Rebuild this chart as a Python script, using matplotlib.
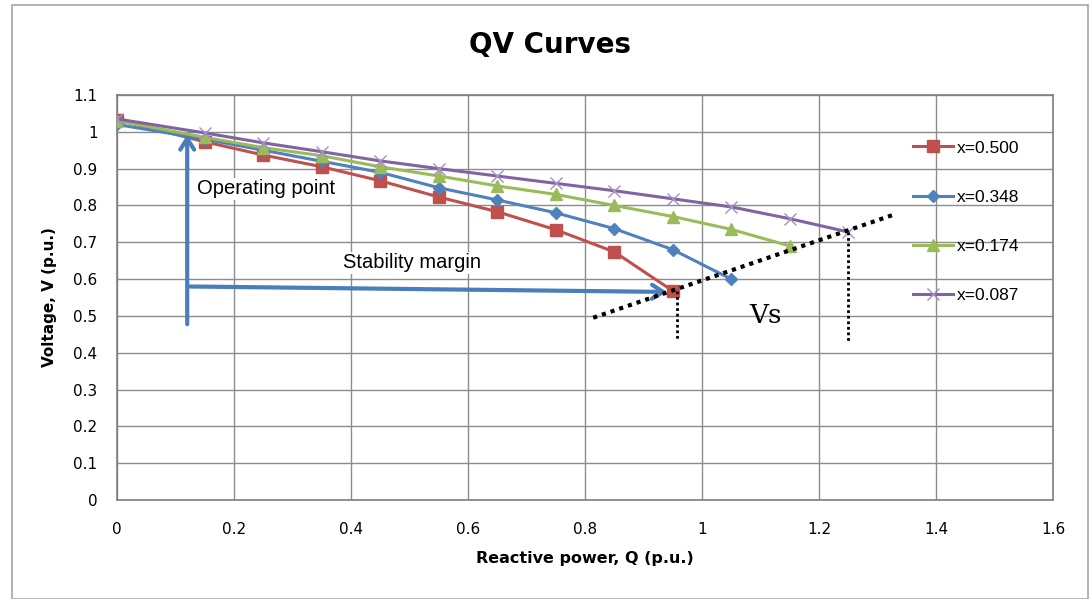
import matplotlib.pyplot as plt
from matplotlib.patches import Rectangle

# data
q_red = [0, 0.15, 0.25, 0.35, 0.45, 0.55, 0.65, 0.75, 0.85, 0.95]
v_red = [1.033, 0.973, 0.937, 0.905, 0.867, 0.823, 0.783, 0.734, 0.674, 0.568]
q_blue = [0, 0.15, 0.25, 0.35, 0.45, 0.55, 0.65, 0.75, 0.85, 0.95, 1.05]
v_blue = [1.02, 0.98, 0.95, 0.92, 0.89, 0.848, 0.815, 0.78, 0.737, 0.68, 0.60]
q_green = [0, 0.15, 0.25, 0.35, 0.45, 0.55, 0.65, 0.75, 0.85, 0.95, 1.05, 1.15]
v_green = [1.03, 0.985, 0.957, 0.935, 0.905, 0.88, 0.853, 0.83, 0.80, 0.77, 0.735, 0.69]
q_purple = [0, 0.15, 0.25, 0.35, 0.45, 0.55, 0.65, 0.75, 0.85, 0.95, 1.05, 1.15, 1.25]
v_purple = [1.035, 0.997, 0.97, 0.946, 0.921, 0.90, 0.88, 0.86, 0.84, 0.818, 0.796, 0.764, 0.728]
labels = ['x=0.500', 'x=0.348', 'x=0.174', 'x=0.087']

# annotation geometry (data units)
vs_line_q = [0.814, 1.326]
vs_line_v = [0.495, 0.774]
drop_red = (0.957, 0.568, 0.435)
drop_purple = (1.25, 0.728, 0.43)

fig = plt.figure(figsize=(10.9, 5.99), dpi=100)
fig.patches.append(Rectangle((12 / 1090, 0), 1076 / 1090, 1 - 5 / 599, transform=fig.transFigure,
                             fill=False, edgecolor='#a6a6a6', linewidth=1.2))
ax = fig.add_axes([117 / 1090, 1 - 500 / 599, 936 / 1090, 405 / 599])

ax.plot(q_red, v_red, color='#C0504D', marker='s', markersize=8, linewidth=2.2, label=labels[0], zorder=3)
ax.plot(q_blue, v_blue, color='#4F81BD', marker='D', markersize=6.5, linewidth=2.2, label=labels[1], zorder=3)
ax.plot(q_green, v_green, color='#9BBB59', marker='^', markersize=8.5, linewidth=2.2, label=labels[2], zorder=3)
ax.plot(q_purple, v_purple, color='#8064A2', marker='x', markersize=9, markeredgecolor='#a48fc4',
        linewidth=2.2, label=labels[3], zorder=3)

ax.set_xlim(0, 1.6)
ax.set_ylim(0, 1.1)
ax.set_xticks([0, 0.2, 0.4, 0.6, 0.8, 1, 1.2, 1.4, 1.6])
ax.set_xticklabels(['0', '0.2', '0.4', '0.6', '0.8', '1', '1.2', '1.4', '1.6'], fontsize=11)
ax.set_yticks([i / 10 for i in range(12)])
ax.set_yticklabels(['0', '0.1', '0.2', '0.3', '0.4', '0.5', '0.6', '0.7', '0.8', '0.9', '1', '1.1'], fontsize=11)
ax.tick_params(length=0, pad=14)
ax.tick_params(axis='x', pad=16)
ax.grid(True, color='#8c8c8c', linewidth=1)
ax.set_axisbelow(True)
for s in ax.spines.values():
    s.set_color('#7f7f7f')
    s.set_linewidth(1.2)

ax.set_xlabel('Reactive power, Q (p.u.)', fontsize=11.5, fontweight='bold', labelpad=10)
ax.set_ylabel('Voltage, V (p.u.)', fontsize=11, fontweight='bold', labelpad=12)
fig.text(550 / 1090, 1 - 45 / 599, 'QV Curves', fontsize=20, fontweight='bold', ha='center', va='center')

# arrows
blue = '#4a7ebb'
ax.annotate('', xy=(0.12, 1.0), xytext=(0.12, 0.47),
            arrowprops=dict(arrowstyle='->,head_length=0.8,head_width=0.5', color=blue, lw=3))
ax.annotate('', xy=(0.945, 0.565), xytext=(0.12, 0.58),
            arrowprops=dict(arrowstyle='->,head_length=0.8,head_width=0.5', color=blue, lw=3))
ax.text(0.137, 0.845, 'Operating point', fontsize=14.5, va='center', ha='left',
        family='Liberation Sans', bbox=dict(facecolor='white', edgecolor='none', pad=1))
ax.text(0.505, 0.644, 'Stability margin', fontsize=14.5, va='center', ha='center',
        family='Liberation Sans', bbox=dict(facecolor='white', edgecolor='none', pad=1))
ax.text(1.109, 0.50, 'Vs', fontsize=19, va='center', ha='center', family='DejaVu Serif')

ax.plot(vs_line_q, vs_line_v, color='black', linestyle=(0, (1, 1.2)), linewidth=3, zorder=4)
ax.plot([drop_red[0]] * 2, drop_red[1:], color='black', linestyle=(0, (1, 1)), linewidth=2, zorder=4)
ax.plot([drop_purple[0]] * 2, drop_purple[1:], color='black', linestyle=(0, (1, 1)), linewidth=2, zorder=4)

leg = ax.legend(loc='upper left', bbox_to_anchor=(0.843, 0.905), frameon=False,
                prop={'family': 'Liberation Sans', 'size': 12.5}, labelspacing=1.95,
                handlelength=2.3, handletextpad=0.2, borderaxespad=0)

plt.savefig('out.png', dpi=100)
